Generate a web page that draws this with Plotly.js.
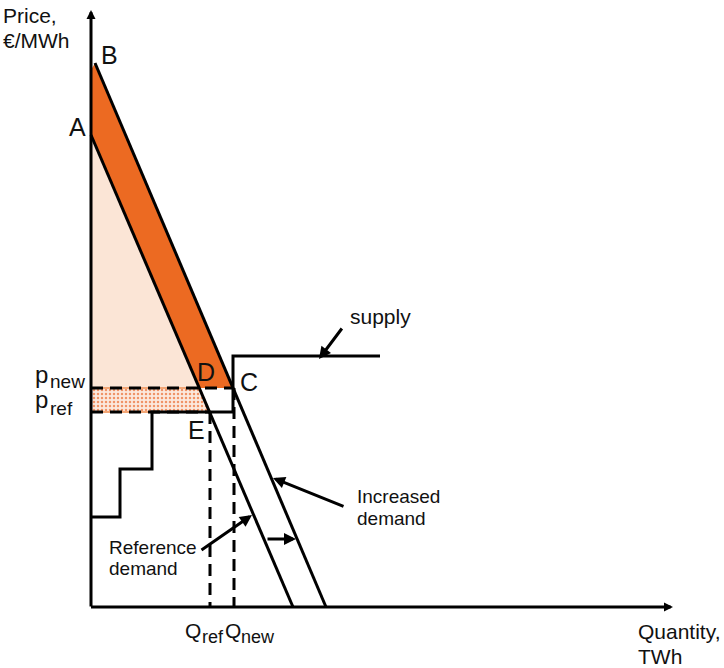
<!DOCTYPE html>
<html>
<head>
<meta charset="utf-8">
<script src="https://cdn.plot.ly/plotly-3.0.1.min.js"></script>
<style>html,body{margin:0;padding:0;background:#fff;}#chart{width:724px;height:668px;}</style>
</head>
<body>
<div id="chart"></div>
<script>
// ---- schematic data (quantity, price units of the diagram) ----
const refDemandQ = [0, 202];
const refDemandP = [472, 0];
const incDemandQ = [4, 235];
const incDemandP = [544, 0];
const supplyQ = [0, 29, 29, 61, 61, 142, 142, 289];
const supplyP = [90, 90, 138, 138, 195, 195, 251, 251];
const priceNew = 219;
const priceRef = 195;
const quantityRef = 119;
const quantityNew = 143;
const orangeTopP = 537;
const pointLabels = ['A', 'B', 'C', 'D', 'E'];

function qAt(qs, ps, p) {
  const t = (p - ps[0]) / (ps[1] - ps[0]);
  return qs[0] + t * (qs[1] - qs[0]);
}
const qD = qAt(refDemandQ, refDemandP, priceNew);
const qE = qAt(refDemandQ, refDemandP, priceRef);
const qC = qAt(incDemandQ, incDemandP, priceNew);

const FONT = 'Liberation Sans, Arial, sans-serif';
const ORANGE = '#EC6A22';
const PEACH = '#FBE5D6';

const traces = [
  { // consumer surplus (reference)
    x: [0, qD, 0], y: [refDemandP[0], priceNew, priceNew],
    fill: 'toself', fillcolor: PEACH, mode: 'lines', line: {width: 0}, hoverinfo: 'skip'
  },
  { // price increase band
    x: [0, qD, qE, 0], y: [priceNew, priceNew, priceRef, priceRef],
    fill: 'toself', fillcolor: PEACH, mode: 'lines', line: {width: 2, color: '#F2A676'},
    fillpattern: {shape: '.', bgcolor: '#FCE9DD', fgcolor: '#F09466', size: 4, solidity: 0.3},
    hoverinfo: 'skip'
  },
  { // dark orange area
    x: [0, incDemandQ[0], qC, qD, 0], y: [orangeTopP, incDemandP[0], priceNew, priceNew, refDemandP[0]],
    fill: 'toself', fillcolor: ORANGE, mode: 'lines', line: {width: 0}, hoverinfo: 'skip'
  },
  { x: [0, qC], y: [priceNew, priceNew], mode: 'lines', line: {color: '#000', width: 3, dash: '12px,7px'}, hoverinfo: 'skip' },
  { x: [0, qE], y: [priceRef, priceRef], mode: 'lines', line: {color: '#000', width: 3, dash: '12px,7px'}, hoverinfo: 'skip' },
  { x: [quantityRef, quantityRef], y: [priceRef, 0], mode: 'lines', line: {color: '#000', width: 3, dash: '12px,7px'}, hoverinfo: 'skip' },
  { x: [quantityNew, quantityNew], y: [priceNew, 0], mode: 'lines', line: {color: '#000', width: 3, dash: '12px,7px'}, hoverinfo: 'skip' },
  { x: supplyQ, y: supplyP, mode: 'lines', line: {color: '#000', width: 3}, hoverinfo: 'skip' },
  { x: refDemandQ, y: refDemandP, mode: 'lines', line: {color: '#000', width: 3}, hoverinfo: 'skip' },
  { x: incDemandQ, y: incDemandP, mode: 'lines', line: {color: '#000', width: 3}, hoverinfo: 'skip' }
];

function arrow(x, y, ax, ay, size) {
  return {x: x, y: y, ax: ax, ay: ay, xref: 'x', yref: 'y', axref: 'x', ayref: 'y',
    text: '', showarrow: true, arrowhead: 2, arrowsize: size, arrowwidth: 3, arrowcolor: '#000',
    standoff: 0, startstandoff: 0};
}
function label(text, x, y, size, xanchor) {
  return {x: x, y: y, xref: 'x', yref: 'y', text: text, showarrow: false, borderpad: 0,
    xanchor: xanchor || 'center', yanchor: 'middle', font: {family: FONT, size: size, color: '#111'}};
}

const annotations = [
  arrow(0, 597, 0, -1, 0.6),
  arrow(582, 0, -1.5, 0, 0.6),
  arrow(228, 248, 252, 280, 0.8),
  arrow(182, 129, 254, 100, 0.8),
  arrow(161, 92, 109, 56, 0.8),
  arrow(205, 68, 175, 68, 0.8),
  label('Price,', -89, 592, 21, 'left'),
  label('€/MWh', -89, 567, 21, 'left'),
  label(pointLabels[1], 18, 552, 25),
  label(pointLabels[0], -14, 480, 25),
  label(pointLabels[2], 158, 225, 25),
  label(pointLabels[3], 115, 235, 25),
  label(pointLabels[4], 105, 177, 25),
  label('p', -57, 233, 24, 'left'),
  label('new', -42, 226, 19, 'left'),
  label('p', -57, 208, 24, 'left'),
  label('ref', -42, 199, 19, 'left'),
  label('supply', 289, 291, 21),
  label('Increased', 265, 111, 19, 'left'),
  label('demand', 265, 89, 19, 'left'),
  label('Reference', 17, 60, 19, 'left'),
  label('demand', 17, 39, 19, 'left'),
  label('Q', 93, -23, 21, 'left'),
  label('ref', 110, -30, 18, 'left'),
  label('Q', 133, -23, 21, 'left'),
  label('new', 149, -30, 18, 'left'),
  label('Quantity,', 546, -24, 21, 'left'),
  label('TWh', 546, -49, 21, 'left')
];

const layout = {
  width: 724, height: 668,
  margin: {l: 0, r: 0, t: 0, b: 0, pad: 0},
  paper_bgcolor: '#fff', plot_bgcolor: '#fff',
  showlegend: false,
  xaxis: {range: [-91, 633], visible: false, fixedrange: true},
  yaxis: {range: [-61, 607], visible: false, fixedrange: true},
  annotations: annotations
};

Plotly.newPlot('chart', traces, layout, {displayModeBar: false, staticPlot: true});
</script>
</body>
</html>
